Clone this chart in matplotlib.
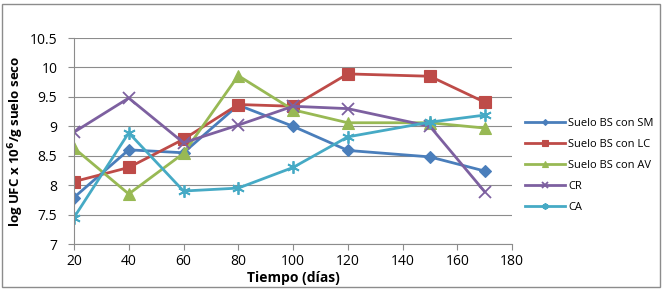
import matplotlib
matplotlib.use("Agg")
import matplotlib.pyplot as plt
from matplotlib.patches import Rectangle

plt.rcParams['font.family'] = ['Open Sans', 'DejaVu Sans']

dias = [20, 40, 60, 80, 100, 120, 150, 170]
sm = [7.79, 8.60, 8.55, 9.36, 9.00, 8.59, 8.48, 8.24]
lc = [8.06, 8.30, 8.78, 9.37, 9.34, 9.89, 9.85, 9.41]
av = [8.63, 7.85, 8.54, 9.86, 9.28, 9.06, 9.06, 8.97]
cr = [8.90, 9.48, 8.72, 9.02, 9.34, 9.30, 9.00, 7.89]
ca = [7.45, 8.89, 7.90, 7.95, 8.30, 8.82, 9.07, 9.19]
labels = ["Suelo BS con SM", "Suelo BS con LC", "Suelo BS con AV", "CR", "CA"]
xticks = [20, 40, 60, 80, 100, 120, 140, 160, 180]
yticks = [7, 7.5, 8, 8.5, 9, 9.5, 10, 10.5]

fig = plt.figure(figsize=(6.63, 2.91), dpi=100)
ax = fig.add_axes([74/663, 47/291, (512-74)/663, (244-38)/291])

series = [
    (sm, "#4A7EBB", "D", 6),
    (lc, "#BE4B48", "s", 8),
    (av, "#98B954", "^", 8),
    (cr, "#7D60A0", "x", 8),
    (ca, "#46AAC5", (6, 2, 0), 9),
]
for (vals, col, mk, ms), lab in zip(series, labels):
    ax.plot(dias, vals, color=col, lw=2, marker=mk, markersize=ms,
            markerfacecolor=col, markeredgecolor=col,
            markeredgewidth=1.3 if (mk == "x" or isinstance(mk, tuple)) else 0.8,
            label=lab)

ax.set_xlim(20, 180)
ax.set_ylim(7, 10.5)
ax.set_xticks(xticks)
ax.set_xticklabels([str(t) for t in xticks])
ax.set_yticks(yticks)
ax.set_yticklabels(["7", "7.5", "8", "8.5", "9", "9.5", "10", "10.5"])
ax.grid(axis='y', color='#8c8c8c', lw=0.8)
ax.set_axisbelow(True)
for s in ['top', 'right']:
    ax.spines[s].set_visible(False)
for s in ['left', 'bottom']:
    ax.spines[s].set_color('#8c8c8c')
ax.tick_params(axis='both', colors='#8c8c8c', labelcolor='black', labelsize=10, length=4, direction='out')
ax.tick_params(axis='y', pad=8)

ax.set_xlabel("Tiempo (días)", fontsize=10, fontweight='bold', labelpad=1)
ax.set_ylabel("log UFC x 10$^{\\mathbf{6}}$/g suelo seco", fontsize=9.5, fontweight='bold', labelpad=3)

leg = ax.legend(loc='upper left', bbox_to_anchor=(517/663, 1 - 110/291), bbox_transform=fig.transFigure,
                frameon=False, fontsize=8, handlelength=3.6, handletextpad=0.3, labelspacing=0.9,
                markerscale=0.5, borderpad=0.2)

fig.patches.append(Rectangle((2/663, 4/291), 658/663, 283/291, transform=fig.transFigure,
                             fill=False, edgecolor='#8c8c8c', lw=1))

fig.savefig("out.png", dpi=100)
